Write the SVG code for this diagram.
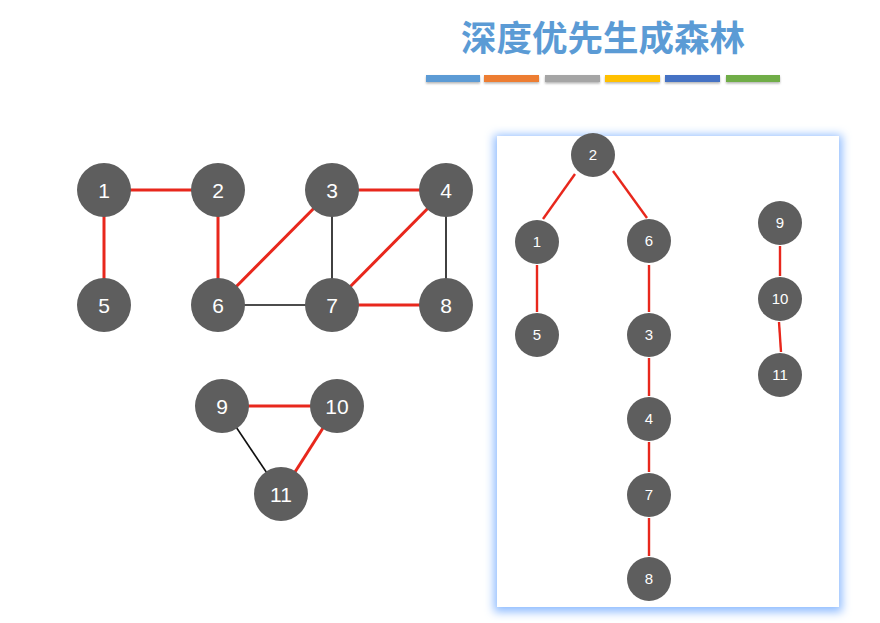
<svg xmlns="http://www.w3.org/2000/svg" width="880" height="623" viewBox="0 0 880 623">
<defs>
<filter id="glow" x="-10%" y="-10%" width="120%" height="120%">
<feMorphology in="SourceAlpha" operator="dilate" radius="3" result="d"/>
<feGaussianBlur in="d" stdDeviation="5" result="b"/>
<feFlood flood-color="#8fbcff" flood-opacity="1"/>
<feComposite in2="b" operator="in" result="s"/>
<feOffset in="s" dy="2" result="so"/>
<feMerge><feMergeNode in="so"/><feMergeNode in="SourceGraphic"/></feMerge>
</filter>
<filter id="barsh" x="-5%" y="-50%" width="110%" height="250%">
<feDropShadow dx="0" dy="1.5" stdDeviation="1" flood-color="#000" flood-opacity="0.3"/>
</filter>
<style>
.n circle{fill:#5e5e5e;}
.big text{font-family:"Liberation Sans",Arial,sans-serif;font-size:21px;fill:#fff;text-anchor:middle;}
.small text{font-family:"Liberation Sans",Arial,sans-serif;font-size:15px;fill:#fff;text-anchor:middle;}
.r{stroke:#e8271c;stroke-width:3;fill:none;}
.k{stroke:#111;stroke-width:1.6;fill:none;}
.rt{stroke:#e8271c;stroke-width:2.4;fill:none;}
</style>
</defs>
<rect width="880" height="623" fill="#fff"/>
<text x="603" y="51" font-family="'Noto Sans CJK SC',sans-serif" font-size="35.5" font-weight="bold" fill="#5b9bd5" text-anchor="middle">深度优先生成森林</text>
<g id="bars" filter="url(#barsh)">
<rect x="426" y="75" width="54" height="7" fill="#5b9bd5"/>
<rect x="484" y="75" width="55" height="7" fill="#ed7d31"/>
<rect x="545" y="75" width="55" height="7" fill="#a5a5a5"/>
<rect x="605" y="75" width="55" height="7" fill="#ffc000"/>
<rect x="665" y="75" width="55" height="7" fill="#4472c4"/>
<rect x="726" y="75" width="54" height="7" fill="#70ad47"/>
</g>
<rect id="panel" x="497" y="136" width="342" height="471" fill="#fff" filter="url(#glow)"/>
<g id="connectors">
<line class="r" x1="104" y1="190" x2="218" y2="190"/>
<line class="r" x1="104" y1="190" x2="104" y2="305"/>
<line class="r" x1="218" y1="190" x2="218" y2="305"/>
<line class="r" x1="332" y1="190" x2="218" y2="305"/>
<line class="r" x1="332" y1="190" x2="446" y2="190"/>
<line class="k" x1="332" y1="190" x2="332" y2="305"/>
<line class="r" x1="446" y1="190" x2="332" y2="305"/>
<line class="k" x1="446" y1="190" x2="446" y2="305"/>
<line class="k" x1="218" y1="305" x2="332" y2="305"/>
<line class="r" x1="332" y1="305" x2="446" y2="305"/>
<line class="r" x1="222" y1="406" x2="337" y2="406"/>
<line class="r" x1="337" y1="406" x2="281" y2="494"/>
<line class="k" x1="222" y1="406" x2="281" y2="494"/>
<line class="rt" x1="575" y1="174" x2="543" y2="219"/>
<line class="rt" x1="613" y1="171" x2="647" y2="218"/>
<line class="rt" x1="537" y1="265" x2="537" y2="312"/>
<line class="rt" x1="649" y1="265" x2="649" y2="312"/>
<line class="rt" x1="649" y1="358" x2="649" y2="396"/>
<line class="rt" x1="649" y1="442" x2="649" y2="472"/>
<line class="rt" x1="649" y1="518" x2="649" y2="556"/>
<line class="rt" x1="780" y1="246" x2="780" y2="276"/>
<line class="rt" x1="779" y1="322" x2="781" y2="352"/>
</g>
<g class="big">
<g id="n1" class="n"><circle cx="104" cy="190" r="27"/><text x="104" y="197.5">1</text></g>
<g id="n2" class="n"><circle cx="218" cy="190" r="27"/><text x="218" y="197.5">2</text></g>
<g id="n3" class="n"><circle cx="332" cy="190" r="27"/><text x="332" y="197.5">3</text></g>
<g id="n4" class="n"><circle cx="446" cy="190" r="27"/><text x="446" y="197.5">4</text></g>
<g id="n5" class="n"><circle cx="104" cy="305" r="27"/><text x="104" y="312.5">5</text></g>
<g id="n6" class="n"><circle cx="218" cy="305" r="27"/><text x="218" y="312.5">6</text></g>
<g id="n7" class="n"><circle cx="332" cy="305" r="27"/><text x="332" y="312.5">7</text></g>
<g id="n8" class="n"><circle cx="446" cy="305" r="27"/><text x="446" y="312.5">8</text></g>
<g id="n9" class="n"><circle cx="222" cy="406" r="27"/><text x="222" y="413.5">9</text></g>
<g id="n10" class="n"><circle cx="337" cy="406" r="27"/><text x="337" y="413.5">10</text></g>
<g id="n11" class="n"><circle cx="281" cy="494" r="27"/><text x="281" y="501.5">11</text></g>
</g>
<g class="small">
<g id="t2" class="n"><circle cx="593" cy="155" r="22"/><text x="593" y="160">2</text></g>
<g id="t1" class="n"><circle cx="537" cy="242" r="22"/><text x="537" y="247">1</text></g>
<g id="t6" class="n"><circle cx="649" cy="241" r="22"/><text x="649" y="246">6</text></g>
<g id="t5" class="n"><circle cx="537" cy="335" r="22"/><text x="537" y="340">5</text></g>
<g id="t3" class="n"><circle cx="649" cy="335" r="22"/><text x="649" y="340">3</text></g>
<g id="t4" class="n"><circle cx="649" cy="419" r="22"/><text x="649" y="424">4</text></g>
<g id="t7" class="n"><circle cx="649" cy="495" r="22"/><text x="649" y="500">7</text></g>
<g id="t8" class="n"><circle cx="649" cy="579" r="22"/><text x="649" y="584">8</text></g>
<g id="t9" class="n"><circle cx="780" cy="223" r="22"/><text x="780" y="228">9</text></g>
<g id="t10" class="n"><circle cx="780" cy="299" r="22"/><text x="780" y="304">10</text></g>
<g id="t11" class="n"><circle cx="780" cy="375" r="22"/><text x="780" y="380">11</text></g>
</g>
</svg>
